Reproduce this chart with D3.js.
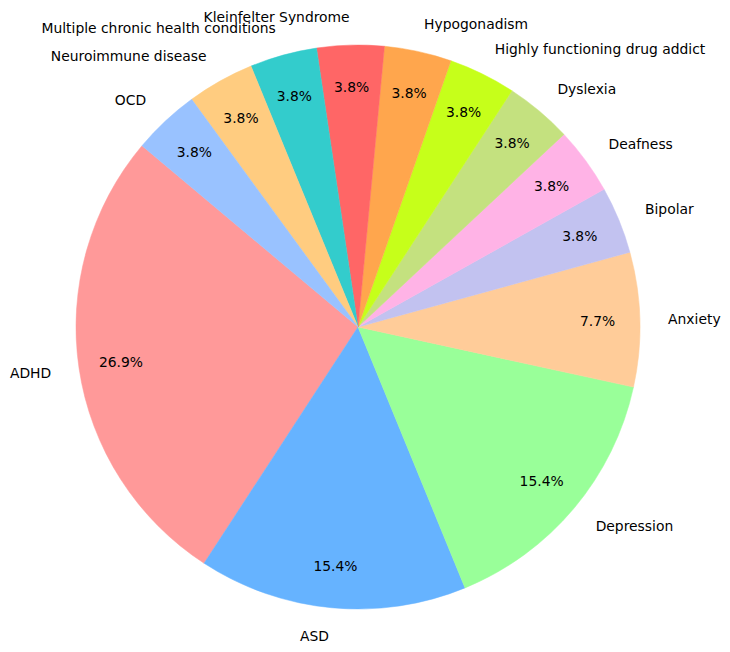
<!DOCTYPE html>
<html><head><meta charset="utf-8">
<script src="https://cdn.jsdelivr.net/npm/d3@7"></script>
<style>body{margin:0;background:#fff}</style>
</head><body>
<svg id="c" width="730" height="652"></svg>
<script>
const categories = ["ADHD","ASD","Depression","Anxiety","Bipolar","Deafness","Dyslexia","Highly functioning drug addict","Hypogonadism","Kleinfelter Syndrome","Multiple chronic health conditions","Neuroimmune disease","OCD"];
const counts = [7,4,4,2,1,1,1,1,1,1,1,1,1];
const colors = ["#ff9999","#66b3ff","#99ff99","#ffcc99","#c2c2f0","#ffb3e6","#c4e17f","#c6ff1a","#ffa64d","#ff6666","#33cccc","#ffcc80","#99c2ff"];
const startAngleDeg = 140;

const W = 730, H = 652, cx = 358, cy = 327, R = 282;
const svg = d3.select("#c");
const g = svg.append("g").attr("transform", `translate(${cx},${cy})`);
const total = d3.sum(counts);
const s0 = (90 - startAngleDeg) * Math.PI / 180;
const pie = d3.pie().sort(null).startAngle(s0).endAngle(s0 - 2 * Math.PI);
const arcs = pie(counts);
const arc = d3.arc().innerRadius(0).outerRadius(R);
g.selectAll("path").data(arcs).join("path")
  .attr("d", arc).attr("fill", (d, i) => colors[i])
  .attr("stroke", (d, i) => colors[i]).attr("stroke-width", 0.5);
const font = "DejaVu Sans";
const fs = "13.89px";
arcs.forEach((d, i) => {
  const mid = (d.startAngle + d.endAngle) / 2;
  const sx = Math.sin(mid), sy = -Math.cos(mid);
  const lx = 1.1 * R * sx, ly = 1.1 * R * sy;
  g.append("text").attr("x", lx).attr("y", ly)
    .attr("text-anchor", lx > 0 ? "start" : "end")
    .attr("dominant-baseline", "central")
    .attr("font-family", font).attr("font-size", fs).attr("fill", "#000")
    .text(categories[i]);
  const px = 0.85 * R * sx, py = 0.85 * R * sy;
  g.append("text").attr("x", px).attr("y", py)
    .attr("text-anchor", "middle").attr("dominant-baseline", "central")
    .attr("font-family", font).attr("font-size", fs).attr("fill", "#000")
    .text((counts[i] / total * 100).toFixed(1) + "%");
});
</script>
</body></html>
